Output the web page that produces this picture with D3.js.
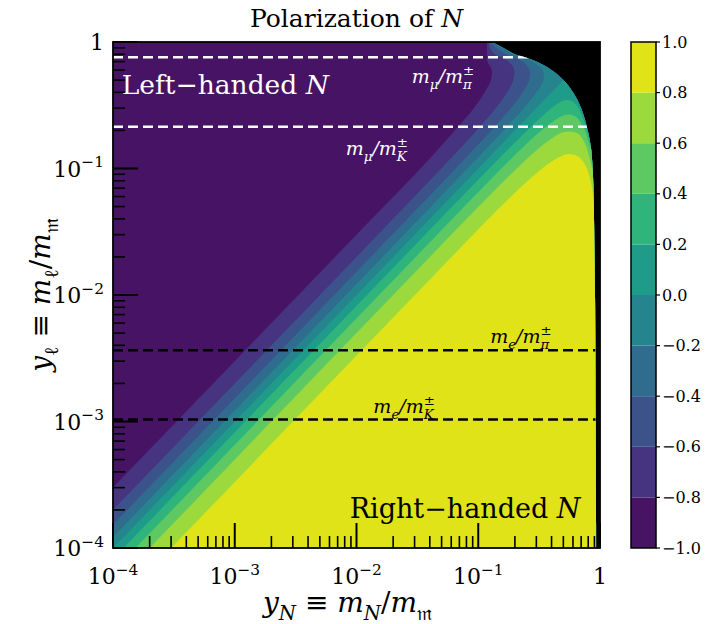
<!DOCTYPE html>
<html>
<head>
<meta charset="utf-8">
<script src="https://cdn.jsdelivr.net/npm/d3@7"></script>
<style>
  body { margin: 0; background: #fff; }
</style>
</head>
<body>
<div id="chart"></div>
<script>
const serif = "'DejaVu Serif', 'Liberation Serif', serif";

// contour levels of the polarization and the axis decades
const levels = [-1, -0.8, -0.6, -0.4, -0.2, 0, 0.2, 0.4, 0.6, 0.8, 1];
const decades = [1e-4, 1e-3, 1e-2, 1e-1, 1];

// edge of the allowed region (black above it), [yN, yl]
const boundary = [[0.13,1.0],[0.16,0.9],[0.2,0.8],[0.243,0.757],[0.3,0.7],[0.4,0.6],[0.5,0.5],
  [0.6,0.4],[0.7,0.3],[0.78,0.214],[0.84,0.15],[0.87,0.1],[0.89,0.05],[0.9,0.02],[0.91,0.01],
  [0.92,0.001],[0.93,0.0001]];

// contour lines, [yN, yl]
const contourM08 = [[1e-4,3e-4],[0.01,0.03],[0.0335,0.1],[0.0642,0.2],[0.092,0.3],[0.113,0.4],
  [0.127,0.5],[0.129,0.6],[0.119,0.7],[0.118,0.85],[0.118,1.0]];
const contourM06 = [[1e-4,2e-4],[0.01,0.02],[0.0496,0.1],[0.0968,0.2],[0.139,0.3],[0.173,0.4],
  [0.194,0.5],[0.197,0.6],[0.178,0.7],[0.136,0.8],[0.125,0.9],[0.122,1.0]];
const contourM04 = [[1e-4,1.53e-4],[0.01,0.0153],[0.0651,0.1],[0.1277,0.2],[0.185,0.3],[0.232,0.4],
  [0.262,0.5],[0.2635,0.6],[0.231,0.7],[0.1686,0.8],[0.14,0.9],[0.126,1.0]];
const contourM02 = [[1e-4,1.22e-4],[0.01,0.0122],[0.0814,0.1],[0.161,0.2],[0.236,0.3],[0.301,0.4],
  [0.3435,0.5],[0.3375,0.6],[0.2775,0.7],[0.191,0.8],[0.155,0.9],[0.128,1.0]];
const contour00 = [[1e-4,1e-4],[0.5,0.5]];
const contourP02 = [[1.22e-4,1e-4],[0.0122,0.01],[0.1232,0.1],[0.2515,0.2],[0.398,0.3],[0.459,0.33],
  [0.487,0.34],[0.535,0.348],[0.591,0.34],[0.616,0.33],[0.668,0.3],[0.79,0.2]];
const contourP04 = [[1.53e-4,1e-4],[0.0153,0.01],[0.155,0.1],[0.2375,0.15],[0.329,0.2],[0.451,0.25],
  [0.491,0.26],[0.54,0.267],[0.619,0.26],[0.654,0.25],[0.753,0.2],[0.8245,0.15]];
const contourP06 = [[2e-4,1e-4],[0.02,0.01],[0.1008,0.05],[0.207,0.1],[0.329,0.15],[0.427,0.18],
  [0.473,0.19],[0.56,0.196],[0.653,0.19],[0.695,0.18],[0.771,0.15],[0.861,0.1]];
const contourP08 = [[3e-4,1e-4],[0.0302,0.01],[0.0907,0.03],[0.1533,0.05],[0.2547,0.08],[0.335,0.1],
  [0.382,0.11],[0.441,0.12],[0.481,0.125],[0.55,0.13],[0.659,0.125],[0.693,0.12],[0.742,0.11],
  [0.78,0.1],[0.837,0.08],[0.906,0.05]];
const contours = [contourM08, contourM06, contourM04, contourM02, contour00,
                  contourP02, contourP04, contourP06, contourP08];

// mass ratios m_mu/m_pi, m_mu/m_K, m_e/m_pi, m_e/m_K
const muRatios = [0.757, 0.214];
const eRatios = [3.66e-3, 1.035e-3];

const width = 707, height = 624;
const svg = d3.select("#chart").append("svg")
  .attr("width", width).attr("height", height)
  .attr("font-family", serif);

const x = d3.scaleLog().domain([1e-4, 1]).range([113, 600]);
const y = d3.scaleLog().domain([1e-4, 1]).range([548, 42]);
const [x0, x1] = x.range();
const [yb, yt] = y.range();

const color = i => d3.interpolateViridis((i + 0.5) / (levels.length - 1));

const line = d3.line().curve(d3.curveCatmullRom.alpha(0.5));

// clip = allowed region
const allowed = [[1e-4, 1e-4], [1e-4, 1]].concat(boundary);
const clipPts = allowed.map(d => [x(d[0]), y(d[1])]);
svg.append("clipPath").attr("id", "allowed")
  .append("path")
  .attr("d", "M" + clipPts[0] + "L" + clipPts[1] + "L" + clipPts[2] +
    line(clipPts.slice(2)).replace(/^M[^C]*/, "") + "Z");

svg.append("rect")
  .attr("x", x0).attr("y", yt).attr("width", x1 - x0).attr("height", yb - yt)
  .attr("fill", "#000");

const plot = svg.append("g").attr("clip-path", "url(#allowed)");

plot.append("rect")
  .attr("x", x0).attr("y", yt).attr("width", x1 - x0).attr("height", yb - yt)
  .attr("fill", color(0));

const pad = 40;
function region(pts, level) {
  const px = pts.map(d => [x(d[0]), y(d[1])]);
  const first = px[0], last = px[px.length - 1];
  let p = line(px);
  if (level < 0) {
    p += `L${last[0]},${yt - pad}L${x1 + pad},${yt - pad}L${x1 + pad},${yb + pad}` +
         `L${x0 - pad},${yb + pad}L${x0 - pad},${first[1]}Z`;
  } else {
    p += `L${x1 + pad},${last[1]}L${x1 + pad},${yb + pad}L${first[0]},${yb + pad}Z`;
  }
  return p;
}

plot.selectAll("path.band")
  .data(contours)
  .join("path")
  .attr("class", "band")
  .attr("d", (d, i) => region(d, levels[i + 1]))
  .attr("fill", (d, i) => color(i + 1));

// dashed mass-ratio lines
plot.selectAll("line.mu")
  .data(muRatios)
  .join("line")
  .attr("x1", x0).attr("x2", x1)
  .attr("y1", d => y(d)).attr("y2", d => y(d))
  .attr("stroke", "#fff").attr("stroke-width", 2.5).attr("stroke-dasharray", "10,5");
plot.selectAll("line.e")
  .data(eRatios)
  .join("line")
  .attr("x1", x0).attr("x2", x1)
  .attr("y1", d => y(d)).attr("y2", d => y(d))
  .attr("stroke", "#000").attr("stroke-width", 2.5).attr("stroke-dasharray", "10,5");

// math-ish text helper: parts {t, it, pos: 'sub'|'sup', back}
function mathText(g, parts, fs, px, py, anchor, fill) {
  const t = g.append("text").attr("x", px).attr("y", py)
    .attr("font-family", serif)
    .attr("font-size", fs).attr("text-anchor", anchor).attr("fill", fill);
  let shift = 0;
  parts.forEach(p => {
    const target = p.pos === "sub" ? 0.3 * fs : p.pos === "sup" ? -0.42 * fs : 0;
    const ts = t.append("tspan").text(p.t)
      .attr("dy", target - shift)
      .attr("font-size", p.pos ? fs * 0.7 : fs);
    if (p.it) ts.attr("font-style", "italic");
    if (p.back) ts.attr("dx", -p.back * fs * 0.7);
    shift = target;
  });
  return t;
}

const ann = svg.append("g");
mathText(ann, [{t: "Left\u2212handed "}, {t: "N", it: true}], 26.5, x(1.18e-4), y(0.39), "start", "#fff");
mathText(ann, [{t: "Right\u2212handed "}, {t: "N", it: true}], 27, x(8.8e-3), y(1.73e-4), "start", "#000");
mathText(ann, [{t: "m", it: true}, {t: "\u03bc", it: true, pos: "sub"}, {t: "/m", it: true},
  {t: "\u00b1", pos: "sup"}, {t: "\u03c0", it: true, pos: "sub", back: 0.84}],
  19, x(0.0513), y(0.474), "middle", "#fff");
mathText(ann, [{t: "m", it: true}, {t: "\u03bc", it: true, pos: "sub"}, {t: "/m", it: true},
  {t: "\u00b1", pos: "sup"}, {t: "K", it: true, pos: "sub", back: 0.84}],
  19, x(0.0147), y(0.128), "middle", "#fff");
mathText(ann, [{t: "m", it: true}, {t: "e", it: true, pos: "sub"}, {t: "/m", it: true},
  {t: "\u00b1", pos: "sup"}, {t: "\u03c0", it: true, pos: "sub", back: 0.84}],
  19, x(0.224), y(4.17e-3), "middle", "#000");
mathText(ann, [{t: "m", it: true}, {t: "e", it: true, pos: "sub"}, {t: "/m", it: true},
  {t: "\u00b1", pos: "sup"}, {t: "K", it: true, pos: "sub", back: 0.84}],
  19, x(0.0246), y(1.17e-3), "middle", "#000");

// ticks (inside), bottom and left
const isMajor = v => decades.some(d => Math.abs(v / d - 1) < 1e-6);
const tickG = svg.append("g").attr("stroke", "#000");
tickG.selectAll("line.xt")
  .data(x.ticks())
  .join("line")
  .attr("x1", d => x(d)).attr("x2", d => x(d))
  .attr("y1", yb).attr("y2", d => yb - (isMajor(d) ? 25 : 12))
  .attr("stroke-width", d => isMajor(d) ? 2 : 1.6);
tickG.selectAll("line.yt")
  .data(y.ticks())
  .join("line")
  .attr("y1", d => y(d)).attr("y2", d => y(d))
  .attr("x1", x0).attr("x2", d => x0 + (isMajor(d) ? 25 : 12))
  .attr("stroke-width", d => isMajor(d) ? 2 : 1.6);

svg.append("rect")
  .attr("x", x0).attr("y", yt).attr("width", x1 - x0).attr("height", yb - yt)
  .attr("fill", "none").attr("stroke", "#000").attr("stroke-width", 1.8);

// tick labels
const expo = v => Math.round(Math.log10(v));
decades.forEach(v => {
  const parts = expo(v) === 0 ? [{t: "1"}] : [{t: "10"}, {t: "\u2212" + (-expo(v)), pos: "sup"}];
  mathText(svg, parts, 22, x(v), 584, "middle", "#000");
  mathText(svg, parts, 22, 104, y(v) + 8, "end", "#000");
});

// title and axis labels
mathText(svg, [{t: "Polarization of "}, {t: "N", it: true}], 25, (x0 + x1) / 2, 27, "middle", "#000");
mathText(svg, [{t: "y", it: true}, {t: "N", it: true, pos: "sub"}, {t: " \u2261 "}, {t: "m", it: true},
  {t: "N", it: true, pos: "sub"}, {t: "/"}, {t: "m", it: true}, {t: "\ud835\udd2a", pos: "sub"}],
  28, (x0 + x1) / 2 - 9, 612, "middle", "#000");
const yl = mathText(svg, [{t: "y", it: true}, {t: "\u2113", pos: "sub"}, {t: " \u2261 "}, {t: "m", it: true},
  {t: "\u2113", pos: "sub"}, {t: "/"}, {t: "m", it: true}, {t: "\ud835\udd2a", pos: "sub"}],
  28, 0, 0, "middle", "#000");
yl.attr("transform", `translate(50,${(yt + yb) / 2}) rotate(-90)`);

// colorbar
const cx = 631, cw = 25;
const cy = d3.scaleLinear().domain([-1, 1]).range([yb, yt]);
const cbar = svg.append("g");
cbar.selectAll("rect")
  .data(d3.range(levels.length - 1))
  .join("rect")
  .attr("x", cx).attr("width", cw)
  .attr("y", i => cy(levels[i + 1]))
  .attr("height", i => cy(levels[i]) - cy(levels[i + 1]))
  .attr("fill", i => color(i));
cbar.append("rect")
  .attr("x", cx).attr("y", yt).attr("width", cw).attr("height", yb - yt)
  .attr("fill", "none").attr("stroke", "#000").attr("stroke-width", 1.5);
cbar.selectAll("line.ct")
  .data(levels)
  .join("line")
  .attr("x1", cx + cw).attr("x2", cx + cw + 4)
  .attr("y1", d => cy(d)).attr("y2", d => cy(d))
  .attr("stroke", "#000").attr("stroke-width", 1.2);
cbar.selectAll("text")
  .data(levels)
  .join("text")
  .attr("x", cx + cw + 6)
  .attr("y", d => cy(d))
  .attr("dy", "0.35em")
  .attr("font-family", serif)
  .attr("font-size", 16)
  .text(d => d3.format(".1f")(d).replace("-", "\u2212"));
</script>
</body>
</html>
